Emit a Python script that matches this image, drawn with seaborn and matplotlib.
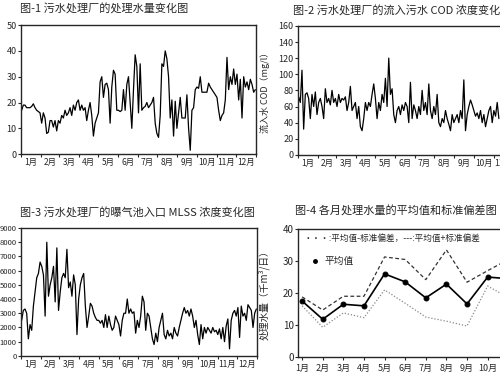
import numpy as np
import matplotlib
matplotlib.use('Agg')
import matplotlib.pyplot as plt
import seaborn as sns
from matplotlib.lines import Line2D

months = [f'{i}月' for i in range(1, 13)]
month_days = [31, 28, 31, 30, 31, 30, 31, 31, 30, 31, 30, 31]

# 图-1 处理水量 (千m3/日), 约每2.6天读一个点
flow = [17, 19, 19, 18, 18, 18, 18.5, 19.5, 18, 17,
        16.5, 16, 12, 16, 14, 8, 8.5, 13, 13, 10.5,
        13, 9, 13, 12, 15, 14, 17, 15, 16, 18,
        15, 19, 17, 20, 21, 17, 19, 17, 18, 13,
        17, 20, 15, 7, 12, 14, 16, 28, 30, 22,
        27, 27.5, 25, 12, 26, 32.5, 31, 17, 17, 16.5,
        17, 25, 17, 27, 30, 20, 10, 25, 38.5, 34,
        16, 35, 17, 18, 18.5, 20, 18, 19, 20, 22,
        12, 8, 6.5, 15, 35, 34, 40, 37, 30, 14,
        21, 7, 20.5, 10, 16, 22, 14, 14, 14, 23,
        10, 1.5, 17, 18, 25, 26, 25.5, 30, 24, 24,
        24, 24, 27.5, 26, 25, 24, 23, 22, 17, 13,
        15, 16, 21, 37.5, 25, 30, 27, 33, 27, 31,
        21, 29, 14, 30, 26, 28, 25, 29, 27, 24,
        25]

# 图-2 流入水 COD (mg/l), 右侧被裁掉
cod = [72, 65, 105, 32, 75, 77, 70, 45, 75, 60,
       78, 50, 65, 70, 60, 45, 82, 65, 70, 62,
       80, 65, 70, 60, 75, 65, 70, 68, 72, 55,
       65, 85, 55, 60, 65, 45, 60, 35, 30, 45,
       65, 55, 65, 60, 75, 88, 70, 45, 65, 55,
       75, 65, 95, 60, 120, 75, 82, 50, 40, 55,
       60, 50, 62, 55, 65, 60, 40, 90, 45, 62,
       55, 45, 60, 50, 80, 55, 65, 50, 88, 55,
       45, 60, 50, 75, 40, 35, 45, 40, 55, 45,
       38, 30, 50, 40, 45, 50, 40, 55, 45, 93,
       30, 50, 60, 68, 62, 55, 48, 52, 45, 55,
       40, 50, 35, 45, 55, 60, 40, 55, 48, 65,
       45]

# 图-3 曝气池入口 MLSS
mlss = [2500, 3200, 3300, 3000, 1200, 2200, 1800, 3500, 4500, 5500,
        5800, 6600, 6300, 5700, 2800, 8000, 4200, 5000, 5500, 6300,
        3800, 7600, 3200, 4500, 5500, 5800, 5500, 7500, 4800, 5200,
        4200, 5700, 5000, 1500, 4000, 5000, 5500, 5800, 3500, 2000,
        2800, 3700, 3500, 3000, 2700, 2500, 2500, 2300, 2500, 2000,
        2900, 2000, 2800, 2200, 1800, 2000, 2800, 2500, 2200, 1400,
        2500, 3000, 3000, 4000, 3000, 3300, 3000, 3100, 1600, 2500,
        2000, 2800, 4200, 3800, 1800, 3000, 2800, 2000, 1200, 800,
        1600, 1000, 2000, 2500, 3000, 1500, 1200, 1800, 1400, 1600,
        1200, 2000, 1600, 1400, 2000, 2500, 3000, 3400, 3000, 3200,
        2800, 3300, 2800, 2000, 2500, 1500, 800, 2200, 1200, 2000,
        1600, 2000, 1800, 1600, 2000, 1700, 1800, 1500, 1900, 1200,
        2000, 1000, 2100, 2600, 500, 2500, 3000, 3200, 2800, 3400,
        1300, 3500, 2800, 3000, 2500, 3600, 3400, 3200, 2000, 3000,
        3300]

# 图-4 各月处理水量
flow_mean = [17.5, 11.8, 16.5, 16.0, 26.0, 23.5, 18.5, 22.8, 16.6, 25.0, 24.5, 23.0]
flow_upper = [18.8, 14.7, 19.0, 19.0, 31.3, 30.5, 24.2, 33.5, 23.4, 27.0, 30.5, 28.0]
flow_lower = [16.0, 9.3, 13.8, 12.3, 21.0, 16.8, 12.5, 11.2, 9.7, 22.2, 18.6, 19.0]

sns.set_style('ticks')
plt.rcParams['font.family'] = ['Noto Sans CJK SC', 'DejaVu Sans']
plt.rcParams['axes.unicode_minus'] = False

fig = plt.figure(figsize=(5, 3.75), dpi=100)
ax1 = fig.add_axes([0.042, 0.589, 0.47, 0.344])
ax2 = fig.add_axes([0.596, 0.587, 0.47, 0.344])
ax3 = fig.add_axes([0.042, 0.051, 0.472, 0.341])
ax4 = fig.add_axes([0.596, 0.048, 0.47, 0.341])


def daily_plot(ax, y, last_day, ymax, step, ysize):
    x = np.linspace(1, last_day, len(y))
    sns.lineplot(x=x, y=y, ax=ax, color='black', lw=0.9)
    edges = np.concatenate([[0], np.cumsum(month_days)])
    centers = (edges[:-1] + edges[1:]) / 2
    ax.set_xlim(0, 365)
    ax.set_xticks(centers)
    ax.set_xticklabels(months)
    ax.set_xticks(edges, minor=True)
    ax.tick_params(axis='x', which='major', length=0, labelsize=6, pad=3)
    ax.tick_params(axis='x', which='minor', length=2, width=0.8)
    ax.set_ylim(0, ymax)
    ax.set_yticks(np.arange(0, ymax + 1, step))
    ax.tick_params(axis='y', length=2, width=0.8, labelsize=ysize, pad=1)
    ax.set_xlabel('')
    ax.set_ylabel('')
    for s in ax.spines.values():
        s.set_linewidth(1)


daily_plot(ax1, flow, 364, 50, 10, 6.5)
daily_plot(ax2, cod, 312, 160, 20, 6.5)
daily_plot(ax3, mlss, 364, 9000, 1000, 5.5)

ax2.set_ylabel('流入水 COD（mg/l）', fontsize=6.5)
ax2.yaxis.set_label_coords(-0.12, 0.5)

# 图-4
xm = np.arange(1, 13)
sns.lineplot(x=xm, y=flow_upper, ax=ax4, color='#333333', lw=0.9, linestyle=(0, (3, 2)))
sns.lineplot(x=xm, y=flow_lower, ax=ax4, color='#888888', lw=0.9, linestyle=(0, (1, 1.5)))
sns.lineplot(x=xm, y=flow_mean, ax=ax4, color='black', lw=1.2, marker='o',
             markersize=3.5, markeredgecolor='black')
ax4.set_xlim(0.8, 12.2)
ax4.set_ylim(0, 40)
ax4.set_yticks([0, 10, 20, 30, 40])
ax4.set_xticks(xm)
ax4.set_xticklabels(months)
ax4.tick_params(axis='x', length=2, width=0.8, labelsize=6.5, pad=3)
ax4.tick_params(axis='y', length=2, width=0.8, labelsize=7, pad=1)
ax4.set_xlabel('')
ax4.set_ylabel('处理水量（千m³/日）', fontsize=7)
ax4.yaxis.set_label_coords(-0.12, 0.5)
for s in ax4.spines.values():
    s.set_linewidth(1)
ax4.text(0.025, 0.93, '···:平均值-标准偏差，---:平均值+标准偏差', transform=ax4.transAxes,
         fontsize=6.2, va='center', ha='left')
dot = Line2D([], [], color='black', marker='o', markersize=2.5, ls='none')
ax4.legend([dot], ['平均值'], loc='center left', bbox_to_anchor=(0.02, 0.75),
           frameon=False, fontsize=7, handlelength=0.8, handletextpad=0.5)

fig.text(0.04, 0.978, '图-1 污水处理厂的处理水量变化图', fontsize=8, ha='left', va='center')
fig.text(0.586, 0.973, '图-2 污水处理厂的流入污水 COD 浓度变化图', fontsize=8, ha='left', va='center')
fig.text(0.04, 0.435, '图-3 污水处理厂的曝气池入口 MLSS 浓度变化图', fontsize=8, ha='left', va='center')
fig.text(0.59, 0.44, '图-4 各月处理水量的平均值和标准偏差图', fontsize=8, ha='left', va='center')

fig.savefig('out.png', dpi=100)
